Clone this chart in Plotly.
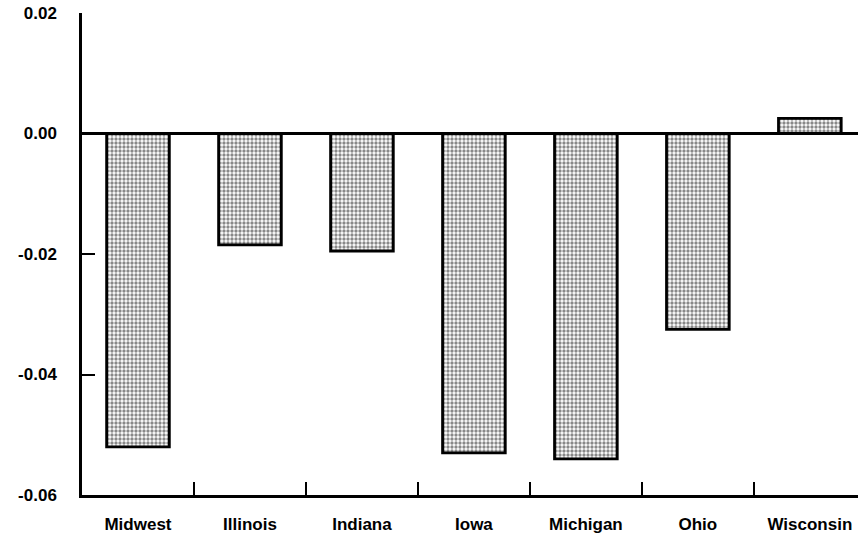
import plotly.graph_objects as go

# Change by state (share), Midwest region
states = ["Midwest", "Illinois", "Indiana", "Iowa", "Michigan", "Ohio", "Wisconsin"]
change = [-0.052, -0.0185, -0.0195, -0.053, -0.054, -0.0325, 0.0025]

y_ticks = [0.02, 0.00, -0.02, -0.04, -0.06]
y_tick_text = ["0.02", "0.00", "-0.02", "-0.04", "-0.06"]

FONT = "Liberation Sans, Arial, sans-serif"

fig = go.Figure(
    go.Bar(
        x=states,
        y=change,
        width=0.56,
        marker=dict(
            color="white",
            line=dict(color="black", width=2.8),
            pattern=dict(shape=".", fgcolor="#111111", bgcolor="white",
                         size=4, solidity=0.55),
        ),
    )
)

fig.update_layout(
    width=858,
    height=534,
    margin=dict(l=82, r=0, t=13, b=37),
    paper_bgcolor="white",
    plot_bgcolor="white",
    showlegend=False,
    bargap=0.44,
    font=dict(family=FONT, size=17, color="black"),
)

fig.update_xaxes(
    type="category",
    range=[-0.5, 6.43],
    tickson="boundaries",
    ticks="inside",
    ticklen=13,
    tickwidth=2,
    tickcolor="black",
    showline=True,
    linecolor="black",
    linewidth=2.5,
    showgrid=False,
    zeroline=False,
    ticklabelstandoff=12,
    tickfont=dict(family=FONT, size=17, weight="bold"),
)

fig.update_yaxes(
    range=[-0.06, 0.02],
    tickvals=y_ticks,
    ticktext=y_tick_text,
    ticks="inside",
    ticklen=13,
    tickwidth=2,
    tickcolor="black",
    showline=True,
    linecolor="black",
    linewidth=2.5,
    showgrid=False,
    zeroline=True,
    zerolinecolor="black",
    zerolinewidth=2.5,
    ticklabelstandoff=19,
    tickfont=dict(family=FONT, size=17, weight="bold"),
)

fig.write_html("out.html")
